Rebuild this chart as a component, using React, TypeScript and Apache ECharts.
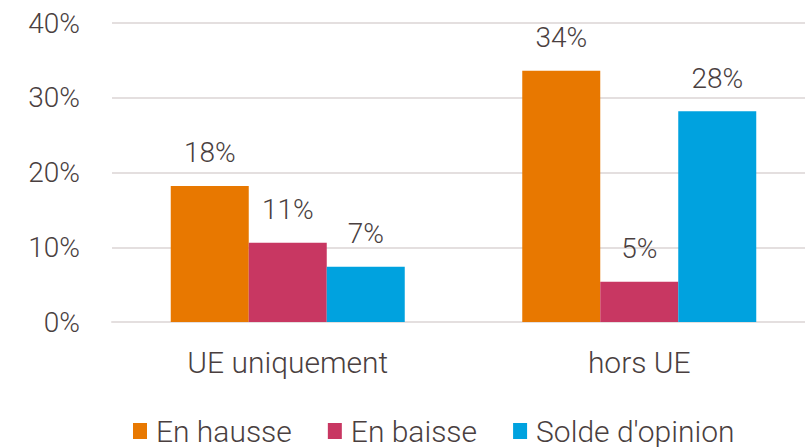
import React, { useEffect, useRef } from "react";
import * as echarts from "echarts";

const categories = ["UE uniquement", "hors UE"];
const seriesNames = ["En hausse", "En baisse", "Solde d'opinion"];
const enHausse = [18.2, 33.6];
const enBaisse = [10.6, 5.4];
const solde = [7.4, 28.2];
const yTicks = [0, 10, 20, 30, 40];

const colors = ["#E87800", "#C83762", "#00A2DF"];
const textColor = "#4a3f3f";
const font = "Roboto, 'Noto Sans', sans-serif";

export default function App() {
  const ref = useRef<HTMLDivElement>(null);
  useEffect(() => {
    if (!ref.current) return;
    const chart = echarts.init(ref.current, undefined, { renderer: "svg" });
    const values = [enHausse, enBaisse, solde];
    chart.setOption({
      animation: false,
      backgroundColor: "#ffffff",
      textStyle: { fontFamily: font },
      grid: { left: 112, top: 23, width: 703, height: 299 },
      legend: {
        left: 128,
        top: 411,
        itemWidth: 14,
        itemHeight: 16,
        itemGap: 36,
        icon: "rect",
        textStyle: {
          fontSize: 30,
          lineHeight: 30,
          fontWeight: 300,
          color: textColor,
          fontFamily: font,
          padding: [0, 0, 0, 4],
        },
        data: seriesNames,
      },
      xAxis: {
        type: "category",
        data: categories,
        axisLine: { show: true, lineStyle: { color: "#e4dfdf", width: 2 } },
        axisTick: { show: false },
        axisLabel: { fontSize: 30, fontWeight: 300, color: textColor, margin: 25, fontFamily: font },
      },
      yAxis: {
        type: "value",
        min: 0,
        max: 40,
        interval: 10,
        axisLine: { show: false },
        axisTick: { show: false },
        splitLine: { lineStyle: { color: "#e4dfdf", width: 2 } },
        axisLabel: {
          fontSize: 28,
          fontWeight: 300,
          color: textColor,
          margin: 32,
          fontFamily: font,
          formatter: (v: number) => (yTicks.includes(v) ? v + "%" : ""),
        },
      },
      series: seriesNames.map((name, i) => ({
        name,
        type: "bar",
        data: values[i],
        barWidth: 78,
        barGap: "0%",
        itemStyle: { color: colors[i] },
        label: {
          show: true,
          position: "top",
          distance: 19,
          fontSize: 28,
          fontWeight: 300,
          color: textColor,
          fontFamily: font,
          formatter: (p: any) => Math.round(p.value) + "%",
        },
      })),
    });
    return () => chart.dispose();
  }, []);
  return (
    <div style={{ position: "fixed", left: 0, top: 0, width: 805, height: 447, overflow: "hidden" }}>
      <div ref={ref} style={{ width: 830, height: 447 }} />
    </div>
  );
}
